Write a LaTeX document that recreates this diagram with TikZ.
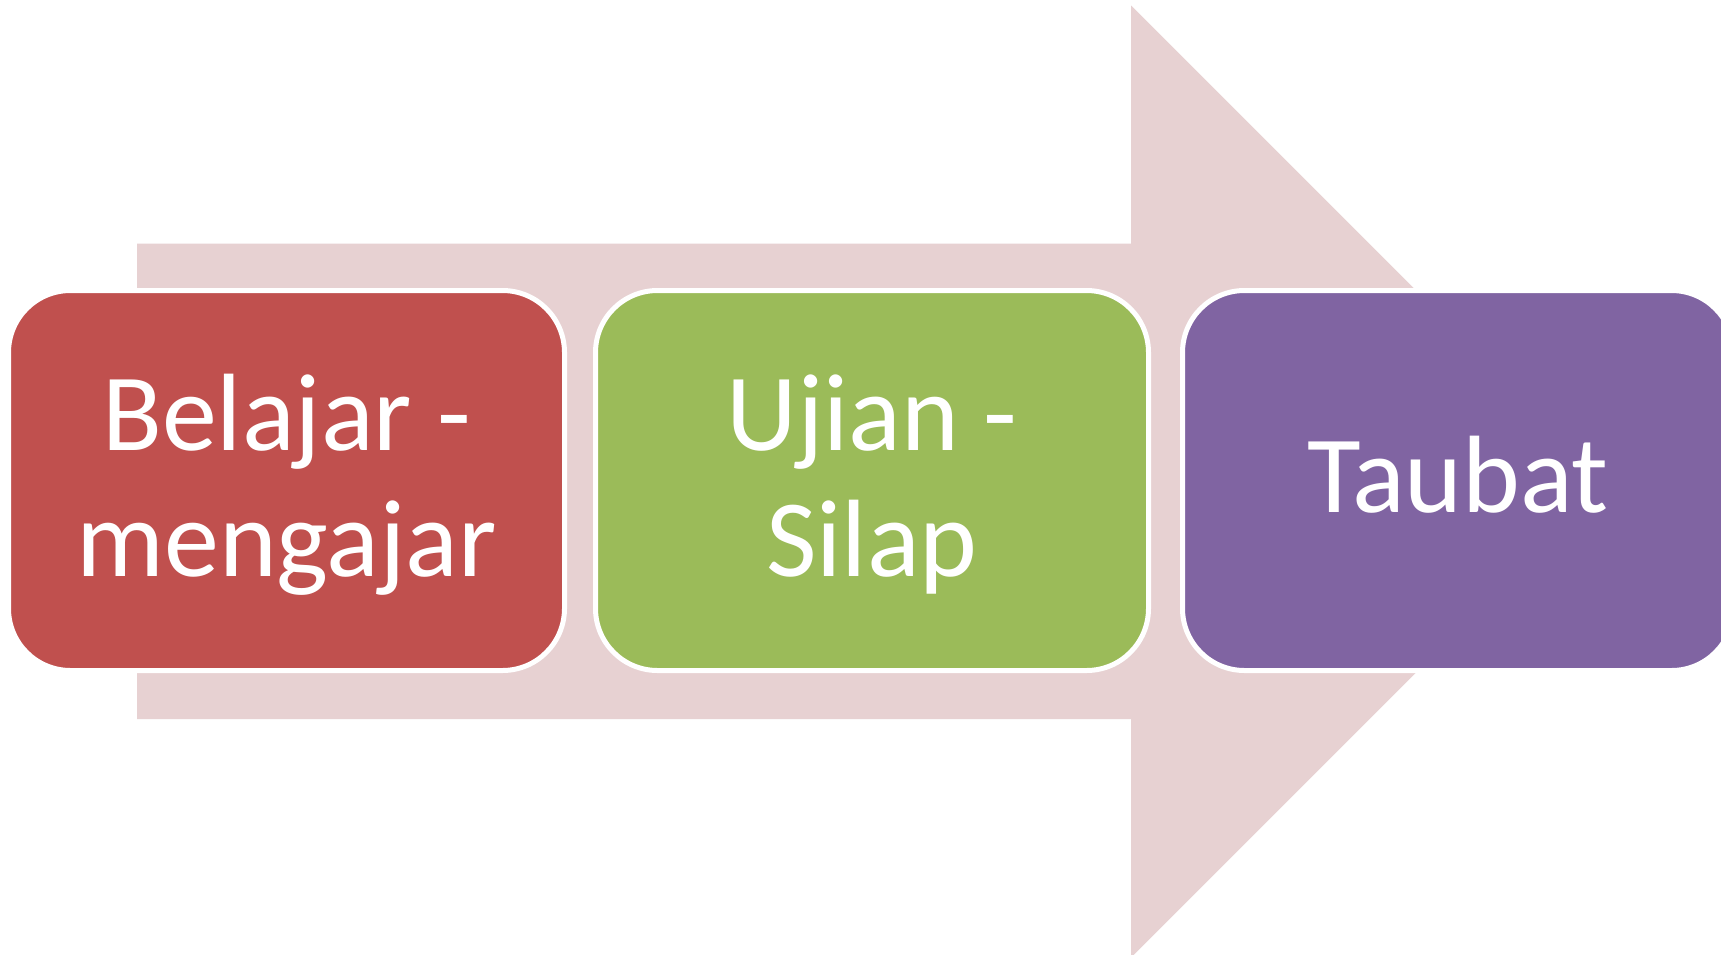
\documentclass[tikz,border=0pt]{standalone}
\usepackage{fontspec}
\setmainfont{Carlito}
\definecolor{arrowbg}{HTML}{E7D1D2}
\definecolor{redbox}{HTML}{C0504E}
\definecolor{greenbox}{HTML}{9BBB59}
\definecolor{purplebox}{HTML}{8064A2}
\tikzset{
  stepbox/.style={draw=white, line width=5pt, rounded corners=62pt,
    minimum height=380pt, inner sep=0pt},
  steptext/.style={inner sep=0pt, align=center, text=white,
    font=\fontsize{110}{126}\selectfont}
}
\begin{document}
\begin{tikzpicture}[x=1pt,y=-1pt]
\useasboundingbox (0,0) rectangle (1721,954);
\clip (0,0) rectangle (1721,954);
\fill[white] (0,0) rectangle (1721,954);
% big background arrow
\fill[arrowbg] (137,243.5) -- (1131,243.5) -- (1131,5.5) -- (1607,481.5)
  -- (1131,957.5) -- (1131,719) -- (137,719) -- cycle;
% boxes
\node[stepbox, fill=redbox, minimum width=556pt] (b1) at (286.5,480.5) {};
\node[stepbox, fill=greenbox, minimum width=553pt] (b2) at (872,480.5) {};
\node[stepbox, fill=purplebox, minimum width=551pt] (b3) at (1458,480.5) {};
% texts
\node[steptext] (t1) at ([yshift=-4pt]b1.center) {Belajar -\\mengajar};
\node[steptext] (t2) at ([yshift=-4pt]b2.center) {Ujian -\\Silap};
\node[steptext] (t3) at ([yshift=5.5pt]b3.center) {Taubat};
\end{tikzpicture}
\end{document}
